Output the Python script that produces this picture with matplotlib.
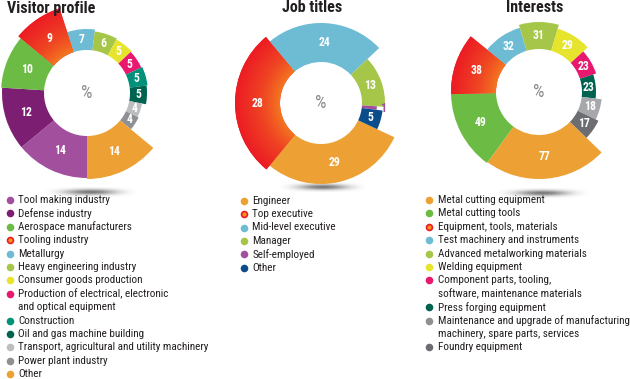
import numpy as np
import matplotlib
matplotlib.use("Agg")
import matplotlib.pyplot as plt
from matplotlib import font_manager
from matplotlib.colors import LinearSegmentedColormap, to_rgb

# ---- data ----
visitor_labels = ["Tool making industry", "Defense industry", "Aerospace manufacturers",
                  "Tooling industry", "Metallurgy", "Heavy engineering industry",
                  "Consumer goods production",
                  "Production of electrical, electronic\nand optical equipment",
                  "Construction", "Oil and gas machine building",
                  "Transport, agricultural and utility machinery",
                  "Power plant industry", "Other"]
visitor_values = [14, 12, 10, 9, 7, 6, 5, 5, 5, 5, 4, 4, 14]

job_labels = ["Engineer", "Top executive", "Mid-level executive", "Manager",
              "Self-employed", "Other"]
job_values = [29, 28, 24, 13, 1, 5]

interest_labels = ["Metal cutting equipment", "Metal cutting tools",
                   "Equipment, tools, materials", "Test machinery and instruments",
                   "Advanced metalworking materials", "Welding equipment",
                   "Component parts, tooling,\nsoftware, maintenance materials",
                   "Press forging equipment",
                   "Maintenance and upgrade of manufacturing\nmachinery, spare parts, services",
                   "Foundry equipment"]
interest_values = [77, 49, 38, 32, 31, 29, 23, 23, 18, 17]

# ---- styles ----
ORANGE, RED, BLUE = "#eda034", "#ec1c24", "#6dbcd4"
LGREEN, GREEN, YELLOW, PINK = "#a6c64a", "#6cbb44", "#e6e42c", "#e8186e"
PURPLE, DPURPLE = "#a2509e", "#7c1f73"
visitor_colors = [PURPLE, DPURPLE, GREEN, RED, BLUE, LGREEN, YELLOW, PINK,
                  "#00917a", "#00634f", "#bdbec0", "#8e9093", ORANGE]
job_colors = [ORANGE, RED, BLUE, LGREEN, PURPLE, "#0b4d8b"]
interest_colors = [ORANGE, GREEN, RED, BLUE, LGREEN, YELLOW, PINK, "#00634f",
                   "#a6a8ab", "#6c6d70"]
interest_legend_colors = interest_colors[:8] + ["#8e9093", "#6c6d70"]

# outer radius of each ring segment (pixels)
visitor_r = [85, 85, 86, 89, 64, 62, 61, 60, 61, 60, 56, 57, 86]
job_r = [81, 86, 80, 64, 56, 62]
interest_r = [87, 88, 88, 67, 70, 66, 60, 57, 63, 66]

W, H = 630, 379
names = {f.name for f in font_manager.fontManager.ttflist}
COND = "DejaVu Sans"
for cand in ["Liberation Sans Narrow", "Roboto Condensed", "Open Sans Condensed",
             "Roboto"]:
    if cand in names:
        COND = cand
        break

fig = plt.figure(figsize=(W / 100, H / 100), dpi=100)
ax = fig.add_axes([0, 0, 1, 1])

red_cmap = LinearSegmentedColormap.from_list("redgrad", ["#f47a20", "#ef4423", "#ec1c24"])


def shadow(cx, cy, w, h):
    xs = np.linspace(-1, 1, 200)
    ys = np.linspace(-1, 1, 40)
    X, Y = np.meshgrid(xs, ys)
    a = np.exp(-(X ** 2) * 2.2 - (Y ** 2) * 3.0) * np.clip(1 - X ** 2, 0, 1)
    img = np.zeros((40, 200, 4))
    img[..., :3] = to_rgb("#4a4a4a")
    img[..., 3] = a * 0.75
    ax.imshow(img, extent=(cx - w / 2, cx + w / 2, cy - h / 2, cy + h / 2),
              origin="lower", zorder=1, interpolation="bilinear")


def donut(values, colors, radii, cx, cy, r_in, start):
    cy = H - cy
    wedges, _ = ax.pie(values, colors=colors, startangle=start, counterclock=False,
                       center=(cx, cy), radius=1, wedgeprops=dict(linewidth=0))
    for w, r, v, c in zip(wedges, radii, values, colors):
        w.set_radius(r)
        w.set_width(r - r_in)
        w.set_zorder(2)
        if c == RED:
            n = 200
            xs = np.linspace(cx - r, cx + r, n)
            ys = np.linspace(cy - r, cy + r, n)
            X, Y = np.meshgrid(xs, ys)
            t = np.clip((np.hypot(X - cx, Y - cy) - r_in) / (r - r_in), 0, 1)
            im = ax.imshow(t ** 0.8, cmap=red_cmap, extent=(cx - r, cx + r, cy - r, cy + r),
                           origin="lower", zorder=2.5)
            im.set_clip_path(w)
        mid = np.radians((w.theta1 + w.theta2) / 2)
        if abs(w.theta2 - w.theta1) < 8:
            # too thin for an inside label: put it just outside the ring
            rm, tc = r + 6, c
        else:
            rm, tc = (r + r_in) / 2, "white"
        ax.text(cx + rm * np.cos(mid), cy + rm * np.sin(mid), str(v), color=tc,
                fontsize=8.5, fontweight="bold", family=COND, ha="center",
                va="center", zorder=4)
    ax.text(cx, cy, "%", color="#8a8a8a", fontsize=13, family=COND,
            ha="center", va="center", zorder=4)


def legend(labels, colors, x, y0, step=13.4):
    y = y0
    for lab, c in zip(labels, colors):
        ax.scatter([x], [H - y], s=30, color=c, linewidths=0, zorder=5)
        if c == RED:
            ax.scatter([x], [H - y], s=9, color="#f7941d", linewidths=0, zorder=6)
        for line in lab.split("\n"):
            ax.text(x + 8.5, H - y, line, fontsize=8.0, family=COND, color="#231f20",
                    ha="left", va="center", zorder=5)
            y += step


shadow(90, 187, 95, 10)
shadow(323, 192, 90, 10)
shadow(542, 186, 95, 10)

donut(visitor_values, visitor_colors, visitor_r, 87, 93, 43, 270)
donut(job_values, job_colors, job_r, 321, 103, 41, 335)
donut(interest_values, interest_colors, interest_r, 539, 92, 43, 316)

ax.text(7, H - 8, "Visitor profile", fontsize=11.5, fontweight="bold", family=COND,
        color="#231f20", ha="left", va="center")
ax.text(312, H - 8, "Job titles", fontsize=11.5, fontweight="bold", family=COND,
        color="#231f20", ha="center", va="center")
ax.text(535, H - 8, "Interests", fontsize=11.5, fontweight="bold", family=COND,
        color="#231f20", ha="center", va="center")

legend(visitor_labels, visitor_colors, 9.5, 200)
legend(job_labels, job_colors, 244, 200.7)
legend(interest_labels, interest_legend_colors, 429, 200)

ax.set_xlim(0, W)
ax.set_ylim(0, H)
ax.set_aspect("equal")
ax.axis("off")
fig.savefig("out.png", dpi=100)
